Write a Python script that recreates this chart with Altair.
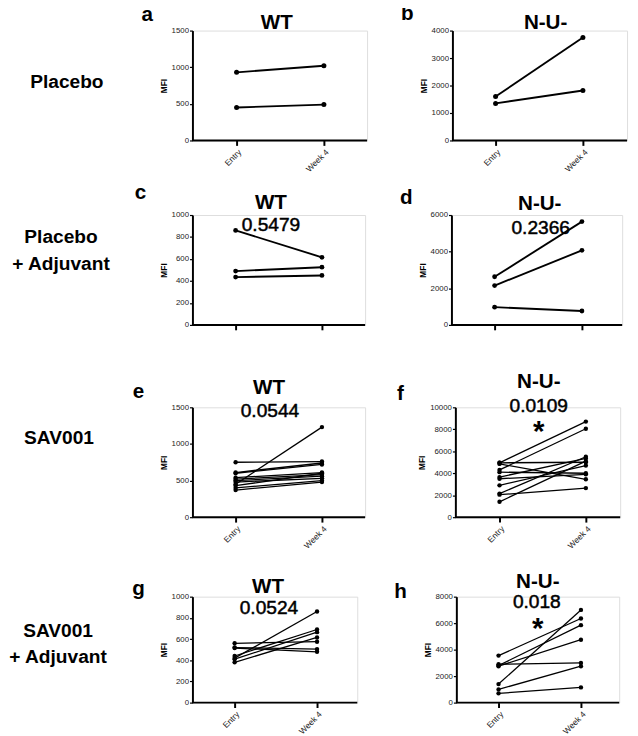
import altair as alt
import pandas as pd

FONT = "Liberation Sans"
time_labels = ["Entry", "Week 4"]

# Panel values (MFI), paired Entry -> Week 4 per subject
a_entry = [930, 450]
a_week4 = [1020, 490]
b_entry = [1600, 1350]
b_week4 = [3750, 1820]
c_entry = [860, 490, 435]
c_week4 = [615, 525, 450]
d_entry = [2630, 2150, 970]
d_week4 = [5640, 4070, 760]
e_entry = [750, 450, 610, 600, 540, 520, 500, 480, 430, 400, 370]
e_week4 = [760, 1230, 740, 720, 610, 580, 560, 530, 600, 500, 480]
f_entry = [4950, 4300, 4950, 4850, 4100, 3650, 3500, 2900, 2150, 2050, 1400]
f_week4 = [8700, 8050, 5000, 3450, 4000, 5350, 3900, 4700, 5500, 2650, 5100]
g_entry = [420, 440, 410, 380, 560, 520, 515]
g_week4 = [860, 690, 665, 615, 575, 505, 480]
h_entry = [1400, 3550, 2800, 2750, 2900, 1000, 700]
h_week4 = [7000, 6350, 5850, 4750, 3000, 2750, 1150]

y_max = {"a": 1500, "b": 4000, "c": 1000, "d": 6000, "e": 1500, "f": 10000, "g": 1000, "h": 8000}
y_step = {"a": 500, "b": 1000, "c": 200, "d": 2000, "e": 500, "f": 2000, "g": 200, "h": 2000}
titles = {"a": "WT", "b": "N-U-", "c": "WT", "d": "N-U-", "e": "WT", "f": "N-U-", "g": "WT", "h": "N-U-"}
pvals = {"c": "0.5479", "d": "0.2366", "e": "0.0544", "f": "0.0109", "g": "0.0524", "h": "0.018"}
row_labels = [["Placebo"], ["Placebo", "+ Adjuvant"], ["SAV001"], ["SAV001", "+ Adjuvant"]]

values = {
    "a": (a_entry, a_week4), "b": (b_entry, b_week4), "c": (c_entry, c_week4), "d": (d_entry, d_week4),
    "e": (e_entry, e_week4), "f": (f_entry, f_week4), "g": (g_entry, g_week4), "h": (h_entry, h_week4),
}


def make_df(key):
    ent, wk = values[key]
    rows = []
    for i, (v0, v1) in enumerate(zip(ent, wk)):
        rows.append({"subject": i, "time": "Entry", "MFI": v0})
        rows.append({"subject": i, "time": "Week 4", "MFI": v1})
    return pd.DataFrame(rows)


def text_layer(txt, x, y, size, weight="bold", sw=0):
    kw = {}
    if sw:
        kw = {"stroke": "black", "strokeWidth": sw}
    return alt.Chart(pd.DataFrame({"t": [txt]})).mark_text(
        font=FONT, fontSize=size, fontWeight=weight, align="center", baseline="alphabetic",
        color="black", **kw
    ).encode(x=alt.value(x), y=alt.value(y), text="t:N")


def panel(key, W, H, xr, L, R, T, B, show_labels, lw, ps, texts):
    df = make_df(key)
    ymax, ystep = y_max[key], y_step[key]
    lines = alt.Chart(df).mark_line(
        color="black", strokeWidth=lw,
        point=alt.OverlayMarkDef(filled=True, size=ps, color="black", opacity=1),
    ).encode(
        x=alt.X("time:N", sort=time_labels,
                scale=alt.Scale(type="point", range=xr, padding=0),
                axis=alt.Axis(title=None, labelAngle=-45, labels=show_labels, domain=False,
                              tickSize=5, tickWidth=2, tickColor="black",
                              labelFontSize=8.5, labelFont=FONT, labelColor="#222", labelPadding=2)),
        y=alt.Y("MFI:Q", scale=alt.Scale(domain=[0, ymax], nice=False),
                axis=alt.Axis(values=list(range(0, ymax + 1, ystep)), format="d", title="MFI",
                              titleFontSize=8.5, titleFont=FONT, titleFontWeight="bold", titlePadding=3,
                              titleColor="black",
                              labelFontSize=8, labelFont=FONT, labelColor="#222", labelPadding=1,
                              tickSize=3, tickWidth=1.2, tickColor="black",
                              domainColor="black", domainWidth=2, grid=False)),
        detail="subject:N",
    )
    one = pd.DataFrame({"k": [0]})
    xline = alt.Chart(one).mark_rule(color="black", strokeWidth=2).encode(
        x=alt.value(0), x2=alt.value(W), y=alt.value(H))
    box_top = alt.Chart(one).mark_rule(opacity=0).encode(
        x=alt.value(-L), x2=alt.value(W + R), y=alt.value(-T))
    box_bot = alt.Chart(one).mark_rule(opacity=0).encode(
        x=alt.value(-L), x2=alt.value(W + R), y=alt.value(H + B))
    tl = [text_layer(*t) for t in texts]
    return alt.layer(lines, xline, box_top, box_bot, *tl).properties(width=W, height=H)


L2 = 70
TS = 21   # panel title size
PS = 19.5 # p-value size
LS = 21   # panel letter size
RS = 19.5 # row label size
PW = 0.5  # p-value stroke (slight emboldening)
rows = []

# Row 1
X1, X2, H, T, B = 186, 449, 112, 33, 41
W1, W2 = 178, 178
left = panel("a", W1, H, [45, 134], X1 - 8, X2 - X1 - W1 - L2, T, B, True, 1.9, 26, [
    ("a", -46, -10, LS), (titles["a"], 86, -2, TS), (row_labels[0][0], 58 - X1, 59, RS)])
right = panel("b", W2, H, [44, 133], L2, 629 - X2 - W2, T, B, True, 1.9, 26, [
    ("b", -46, -11, LS), (titles["b"], 95, -2, TS)])
rows.append(alt.hconcat(left, right, spacing=0))

# Row 2
X1, X2, H, T, B = 192, 454, 112, 33, 15
W1, W2 = 176, 174
left = panel("c", W1, H, [44, 132], X1 - 8, X2 - X1 - W1 - L2, T, B, False, 1.9, 24, [
    ("c", -53, -16, LS), (titles["c"], 80, -6, TS), (pvals["c"], 80, 16, PS, "normal", PW),
    (row_labels[1][0], 58 - X1, 29, RS), (row_labels[1][1], 58 - X1, 56, RS)])
right = panel("d", W2, H, [44, 133], L2, 629 - X2 - W2, T, B, False, 1.9, 24, [
    ("d", -46, -11, LS), (titles["d"], 90, -5, TS), (pvals["d"], 91, 19, PS, "normal", PW)])
rows.append(alt.hconcat(left, right, spacing=0))

# Row 3
X1, X2, H, T, B = 194, 460, 112, 67, 35
W1, W2 = 176, 168
left = panel("e", W1, H, [44, 132], X1 - 8, X2 - X1 - W1 - L2, T, B, True, 1.3, 20, [
    ("e", -55, -9, LS), (titles["e"], 78, -14, TS), (pvals["e"], 79, 10, PS, "normal", PW),
    (row_labels[2][0], 58 - X1, 37, RS)])
right = panel("f", W2, H, [45, 133], L2, 629 - X2 - W2, T, B, True, 1.3, 20, [
    ("f", -56, -7, LS), (titles["f"], 85, -20, TS), (pvals["f"], 85, 5, PS, "normal", PW),
    ("*", 85, 34, 30)])
rows.append(alt.hconcat(left, right, spacing=0))

# Row 4
X1, X2, H, T, B = 195, 462, 108, 44, 35
W1, W2 = 168, 166
left = panel("g", W1, H, [43, 127], X1 - 8, X2 - X1 - W1 - L2, T, B, True, 1.3, 20, [
    ("g", -55, -2, LS), (titles["g"], 77, -4, TS), (pvals["g"], 78, 18, PS, "normal", PW),
    (row_labels[3][0], 58 - X1, 41, RS), (row_labels[3][1], 58 - X1, 68, RS)])
right = panel("h", W2, H, [43, 127], L2, 629 - X2 - W2, T, B, True, 1.3, 20, [
    ("h", -57, 1, LS), (titles["h"], 83, -9, TS), (pvals["h"], 82, 12, PS, "normal", PW),
    ("*", 83, 42, 30)])
rows.append(alt.hconcat(left, right, spacing=0))

chart = alt.vconcat(*rows, spacing=0).properties(
    padding={"left": 0, "top": -18, "right": 0, "bottom": -9}
).configure_view(strokeWidth=0).configure(background="white")

chart.save("out.html", embed_options={"renderer": "svg", "actions": False})
